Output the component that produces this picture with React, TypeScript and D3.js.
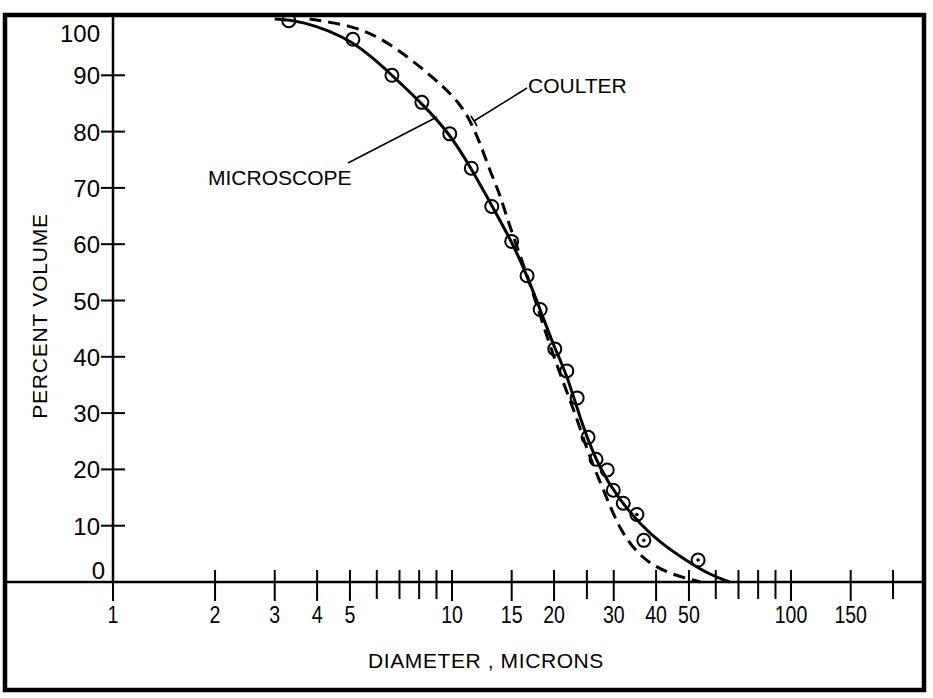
import * as d3 from 'd3';

// measured microscope points (diameter in microns, percent volume)
const pointDiam = [3.3, 5.1, 6.65, 8.15, 9.85, 11.4, 13.1, 15.0, 16.65, 18.2, 20.1, 21.8, 23.4, 25.2, 26.6, 28.7, 29.9, 32.0, 35.1, 36.8, 53.2];
const pointPct = [99.7, 96.4, 90.0, 85.2, 79.6, 73.5, 66.7, 60.5, 54.4, 48.4, 41.4, 37.5, 32.7, 25.7, 21.8, 19.9, 16.3, 14.0, 12.0, 7.4, 3.9];
const pointDotted = [false, false, false, false, false, false, false, false, false, false, false, false, false, false, false, false, false, false, true, true, true];

// microscope fitted curve (solid)
const microDiam = [3.0, 3.56, 5.11, 6.65, 8.16, 9.86, 11.38, 13.15, 15.0, 16.65, 18.2, 20.1, 21.8, 24.3, 27.3, 31.3, 35.9, 41.1, 49.4, 58.0, 66.0];
const microPct = [100, 99.8, 96.4, 90.0, 85.0, 79.6, 73.5, 66.7, 60.5, 54.4, 48.4, 41.4, 37.0, 27.5, 20.0, 14.5, 10.3, 7.0, 3.7, 1.2, 0];

// coulter counter curve (dashed)
const coulterDiam = [3.8, 5.0, 6.13, 7.67, 9.41, 10.56, 11.3, 12.1, 12.94, 13.85, 14.63, 16.65, 18.43, 19.86, 21.8, 23.37, 25.0, 26.8, 28.7, 31.3, 35.1, 39.2, 44.9, 50.4, 54];
const coulterPct = [100, 98.9, 96.8, 92.6, 88.1, 84.9, 82.0, 78.0, 73.0, 68.9, 64.0, 54.6, 46.3, 40.4, 33.8, 29.0, 23.6, 19.0, 14.7, 9.3, 5.2, 2.9, 1.3, 0.5, 0];

const xLabelTicks = [1, 2, 3, 4, 5, 10, 15, 20, 30, 40, 50, 100, 150];
const xMinorTicks = [6, 7, 8, 9, 25, 60, 70, 80, 90, 200];
const yTicks = [10, 20, 30, 40, 50, 60, 70, 80, 90];
const yLabels = [0, 10, 20, 30, 40, 50, 60, 70, 80, 90, 100];

const W = 933;
const H = 698;
const frame = { left: 5, top: 15, right: 924, bottom: 690 };

export default function App() {
  const x = d3.scaleLog().domain([1, 100]).range([113, 791]);
  const y = d3.scaleLinear().domain([0, 100]).range([582, 19]);

  const line = d3
    .line<[number, number]>()
    .x((d) => x(d[0]))
    .y((d) => y(d[1]))
    .curve(d3.curveBasis);

  const microPath = line(microDiam.map((d, i) => [d, microPct[i]] as [number, number])) || '';
  const coulterPath = line(coulterDiam.map((d, i) => [d, coulterPct[i]] as [number, number])) || '';

  const x0 = x(1);
  const y0 = y(0);
  const font = "'Liberation Sans', Arial, Helvetica, sans-serif";

  return (
    <svg
      width={W}
      height={H}
      style={{ position: 'absolute', left: 0, top: 0, background: '#fff' }}
      fontFamily={font}
    >
      {/* outer frame */}
      <rect
        x={frame.left}
        y={frame.top}
        width={frame.right - frame.left}
        height={frame.bottom - frame.top}
        fill="none"
        stroke="#000"
        strokeWidth={4.5}
      />

      {/* axes */}
      <line x1={frame.left} x2={frame.right} y1={y0} y2={y0} stroke="#000" strokeWidth={2.5} />
      <line x1={x0} x2={x0} y1={frame.top} y2={y0} stroke="#000" strokeWidth={2.5} />

      {/* x ticks */}
      {xLabelTicks.map((t) => (
        <g key={'xl' + t}>
          <line x1={x(t)} x2={x(t)} y1={t === 1 ? y0 : y0 - 12} y2={y0 + 19} stroke="#000" strokeWidth={2} />
          <text
            transform={`translate(${x(t)},${y0 + 41}) scale(0.85,1)`}
            textAnchor="middle"
            fontSize={23}
          >
            {t}
          </text>
        </g>
      ))}
      {xMinorTicks.map((t) => (
        <line key={'xm' + t} x1={x(t)} x2={x(t)} y1={y0 - 12} y2={y0 + 17} stroke="#000" strokeWidth={2} />
      ))}

      {/* y ticks */}
      {yTicks.map((t) => (
        <line key={'yt' + t} x1={x0 - 12} x2={x0 + 12} y1={y(t)} y2={y(t)} stroke="#000" strokeWidth={2} />
      ))}
      {yLabels.map((t) => {
        let ty = y(t) + 9;
        let tx = x0 - 13;
        if (t === 0) {
          ty = y0 - 3;
          tx = x0 - 8;
        }
        if (t === 100) ty = y(100) + 23;
        return (
          <text key={'yl' + t} x={tx} y={ty} textAnchor="end" fontSize={24}>
            {t}
          </text>
        );
      })}

      {/* axis titles */}
      <text x={486} y={y0 + 86} textAnchor="middle" fontSize={21} letterSpacing={0.6}>
        DIAMETER , MICRONS
      </text>
      <text
        transform={`translate(47, 316) rotate(-90)`}
        textAnchor="middle"
        fontSize={21}
        letterSpacing={0.8}
      >
        PERCENT VOLUME
      </text>

      {/* curves */}
      <path d={coulterPath} fill="none" stroke="#000" strokeWidth={3} strokeDasharray="12,7" />
      <path d={microPath} fill="none" stroke="#000" strokeWidth={3} />

      {/* points */}
      {pointDiam.map((d, i) => (
        <g key={'p' + i}>
          <circle cx={x(d)} cy={y(pointPct[i])} r={6.5} fill="none" stroke="#000" strokeWidth={2} />
          {pointDotted[i] && <circle cx={x(d)} cy={y(pointPct[i])} r={1.8} fill="#000" />}
        </g>
      ))}

      {/* annotations */}
      <line x1={348} y1={163} x2={437} y2={117} stroke="#000" strokeWidth={1.6} />
      <text x={208} y={185} fontSize={21}>
        MICROSCOPE
      </text>
      <line x1={527} y1={88} x2={474} y2={121} stroke="#000" strokeWidth={1.6} />
      <line x1={471} y1={116} x2={477} y2={126} stroke="#000" strokeWidth={1.6} />
      <text x={528} y={93} fontSize={21}>
        COULTER
      </text>
    </svg>
  );
}
